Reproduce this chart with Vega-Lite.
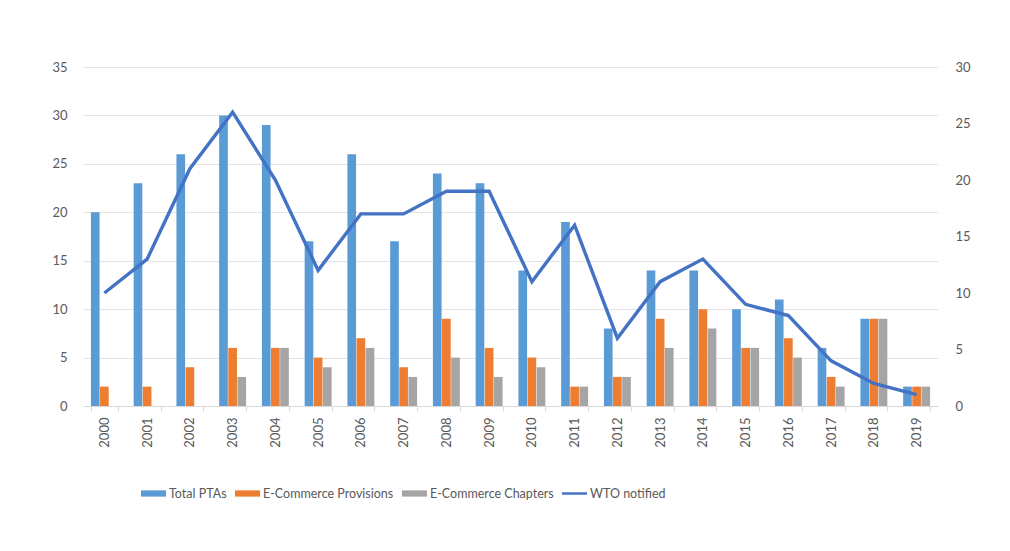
{
  "$schema": "https://vega.github.io/schema/vega-lite/v6.json",
  "width": 855,
  "height": 339,
  "autosize": "none",
  "padding": {"left": 83, "top": 67, "right": 72, "bottom": 145},
  "background": "white",
  "config": {
    "font": "Lato",
    "view": {"stroke": null},
    "axis": {"labelFont": "Lato", "labelFontSize": 13, "labelColor": "#595959", "title": null}
  },
  "datasets": {
    "bars": [
      {"year": "2000", "series": "Total PTAs", "value": 20}, {"year": "2000", "series": "E-Commerce Provisions", "value": 2}, {"year": "2000", "series": "E-Commerce Chapters", "value": 0},
      {"year": "2001", "series": "Total PTAs", "value": 23}, {"year": "2001", "series": "E-Commerce Provisions", "value": 2}, {"year": "2001", "series": "E-Commerce Chapters", "value": 0},
      {"year": "2002", "series": "Total PTAs", "value": 26}, {"year": "2002", "series": "E-Commerce Provisions", "value": 4}, {"year": "2002", "series": "E-Commerce Chapters", "value": 0},
      {"year": "2003", "series": "Total PTAs", "value": 30}, {"year": "2003", "series": "E-Commerce Provisions", "value": 6}, {"year": "2003", "series": "E-Commerce Chapters", "value": 3},
      {"year": "2004", "series": "Total PTAs", "value": 29}, {"year": "2004", "series": "E-Commerce Provisions", "value": 6}, {"year": "2004", "series": "E-Commerce Chapters", "value": 6},
      {"year": "2005", "series": "Total PTAs", "value": 17}, {"year": "2005", "series": "E-Commerce Provisions", "value": 5}, {"year": "2005", "series": "E-Commerce Chapters", "value": 4},
      {"year": "2006", "series": "Total PTAs", "value": 26}, {"year": "2006", "series": "E-Commerce Provisions", "value": 7}, {"year": "2006", "series": "E-Commerce Chapters", "value": 6},
      {"year": "2007", "series": "Total PTAs", "value": 17}, {"year": "2007", "series": "E-Commerce Provisions", "value": 4}, {"year": "2007", "series": "E-Commerce Chapters", "value": 3},
      {"year": "2008", "series": "Total PTAs", "value": 24}, {"year": "2008", "series": "E-Commerce Provisions", "value": 9}, {"year": "2008", "series": "E-Commerce Chapters", "value": 5},
      {"year": "2009", "series": "Total PTAs", "value": 23}, {"year": "2009", "series": "E-Commerce Provisions", "value": 6}, {"year": "2009", "series": "E-Commerce Chapters", "value": 3},
      {"year": "2010", "series": "Total PTAs", "value": 14}, {"year": "2010", "series": "E-Commerce Provisions", "value": 5}, {"year": "2010", "series": "E-Commerce Chapters", "value": 4},
      {"year": "2011", "series": "Total PTAs", "value": 19}, {"year": "2011", "series": "E-Commerce Provisions", "value": 2}, {"year": "2011", "series": "E-Commerce Chapters", "value": 2},
      {"year": "2012", "series": "Total PTAs", "value": 8}, {"year": "2012", "series": "E-Commerce Provisions", "value": 3}, {"year": "2012", "series": "E-Commerce Chapters", "value": 3},
      {"year": "2013", "series": "Total PTAs", "value": 14}, {"year": "2013", "series": "E-Commerce Provisions", "value": 9}, {"year": "2013", "series": "E-Commerce Chapters", "value": 6},
      {"year": "2014", "series": "Total PTAs", "value": 14}, {"year": "2014", "series": "E-Commerce Provisions", "value": 10}, {"year": "2014", "series": "E-Commerce Chapters", "value": 8},
      {"year": "2015", "series": "Total PTAs", "value": 10}, {"year": "2015", "series": "E-Commerce Provisions", "value": 6}, {"year": "2015", "series": "E-Commerce Chapters", "value": 6},
      {"year": "2016", "series": "Total PTAs", "value": 11}, {"year": "2016", "series": "E-Commerce Provisions", "value": 7}, {"year": "2016", "series": "E-Commerce Chapters", "value": 5},
      {"year": "2017", "series": "Total PTAs", "value": 6}, {"year": "2017", "series": "E-Commerce Provisions", "value": 3}, {"year": "2017", "series": "E-Commerce Chapters", "value": 2},
      {"year": "2018", "series": "Total PTAs", "value": 9}, {"year": "2018", "series": "E-Commerce Provisions", "value": 9}, {"year": "2018", "series": "E-Commerce Chapters", "value": 9},
      {"year": "2019", "series": "Total PTAs", "value": 2}, {"year": "2019", "series": "E-Commerce Provisions", "value": 2}, {"year": "2019", "series": "E-Commerce Chapters", "value": 2}
    ],
    "wto": [
      {"year": "2000", "wto": 10}, {"year": "2001", "wto": 13}, {"year": "2002", "wto": 21}, {"year": "2003", "wto": 26},
      {"year": "2004", "wto": 20}, {"year": "2005", "wto": 12}, {"year": "2006", "wto": 17}, {"year": "2007", "wto": 17},
      {"year": "2008", "wto": 19}, {"year": "2009", "wto": 19}, {"year": "2010", "wto": 11}, {"year": "2011", "wto": 16},
      {"year": "2012", "wto": 6}, {"year": "2013", "wto": 11}, {"year": "2014", "wto": 13}, {"year": "2015", "wto": 9},
      {"year": "2016", "wto": 8}, {"year": "2017", "wto": 4}, {"year": "2018", "wto": 2}, {"year": "2019", "wto": 1}
    ]
  },
  "layer": [
    {
      "data": {"name": "bars"},
      "mark": {"type": "bar", "strokeWidth": 0},
      "encoding": {
        "x": {
          "field": "year", "type": "nominal",
          "scale": {"paddingInner": 0.37, "paddingOuter": 0.185},
          "axis": {"labelAngle": -90, "labelPadding": 6, "domainColor": "#d9d9d9", "tickColor": "#d9d9d9", "tickBand": "extent", "tickSize": 5, "grid": false}
        },
        "xOffset": {
          "field": "series", "type": "nominal",
          "sort": ["Total PTAs", "E-Commerce Provisions", "E-Commerce Chapters"],
          "scale": {"domain": ["Total PTAs", "E-Commerce Provisions", "E-Commerce Chapters"], "paddingInner": 0.05}
        },
        "y": {
          "field": "value", "type": "quantitative",
          "scale": {"domain": [0, 35], "nice": false},
          "axis": {"values": [0, 5, 10, 15, 20, 25, 30, 35], "domain": false, "ticks": false, "labelPadding": 16, "grid": true, "gridColor": "#e4e4e4"}
        },
        "color": {
          "field": "series", "type": "nominal",
          "scale": {
            "domain": ["Total PTAs", "E-Commerce Provisions", "E-Commerce Chapters", "WTO notified"],
            "range": ["#5B9BD5", "#ED7D31", "#A5A5A5", "#4472C4"]
          },
          "legend": {
            "title": null,
            "orient": "none",
            "direction": "horizontal",
            "legendX": 58,
            "legendY": 414,
            "labelFont": "Lato",
            "labelFontSize": 12.5,
            "labelColor": "#595959",
            "symbolSize": 625,
            "columnPadding": 8,
            "labelOffset": 3,
            "encode": {
              "symbols": {
                "update": {
                  "shape": {"signal": "datum.value === 'WTO notified' ? 'M-1,-0.1H1V0.1H-1Z' : 'M-1,-0.25H1V0.25H-1Z'"},
                  "fill": {"scale": "color", "field": "value"},
                  "strokeWidth": {"value": 0},
                  "opacity": {"value": 1}
                }
              }
            }
          }
        }
      }
    },
    {
      "data": {"name": "wto"},
      "mark": {"type": "line", "strokeWidth": 3.4, "color": "#4472C4"},
      "encoding": {
        "x": {"field": "year", "type": "nominal"},
        "y": {
          "field": "wto", "type": "quantitative",
          "scale": {"domain": [0, 30], "nice": false},
          "axis": {"orient": "right", "values": [0, 5, 10, 15, 20, 25, 30], "domain": false, "ticks": false, "labelPadding": 17, "grid": false}
        },
        "color": {"datum": "WTO notified", "type": "nominal"}
      }
    }
  ],
  "resolve": {"scale": {"y": "independent"}}
}
